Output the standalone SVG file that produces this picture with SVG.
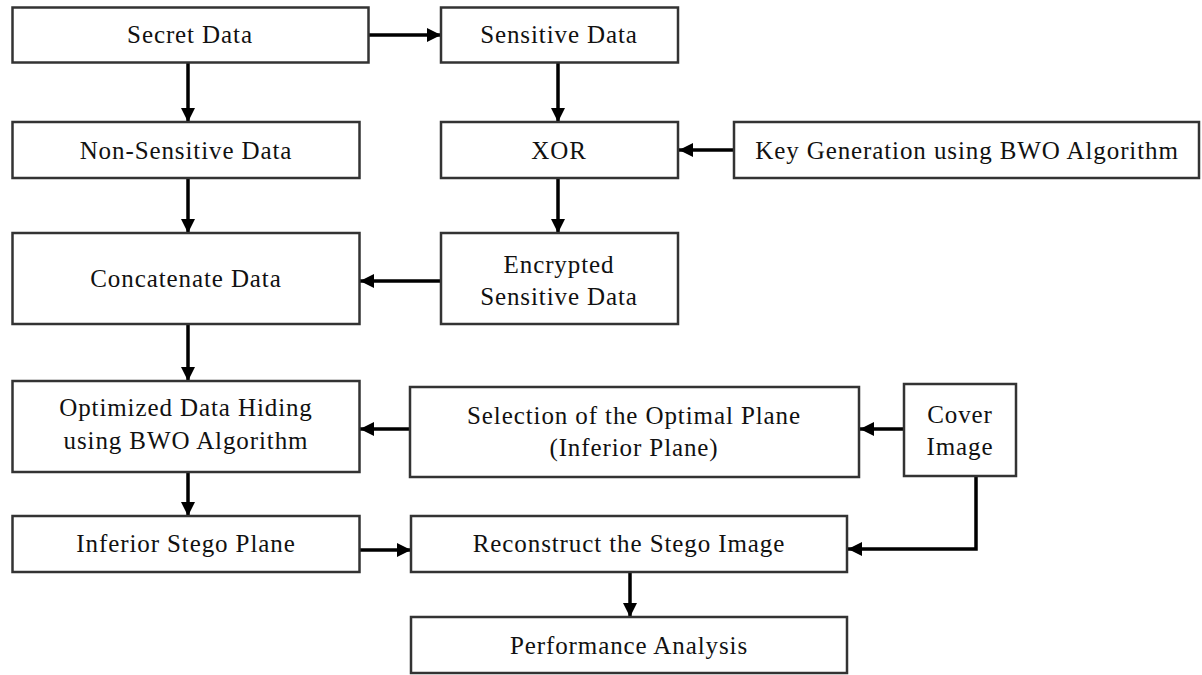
<svg xmlns="http://www.w3.org/2000/svg" width="1202" height="675" viewBox="0 0 1202 675">
<defs>
<marker id="ah" viewBox="0 0 10 10" refX="10" refY="5" markerWidth="4" markerHeight="4" orient="auto" markerUnits="strokeWidth">
<path d="M0,0 L10,5 L0,10 z" fill="#000"/>
</marker>
<style>
.box{fill:#fff;stroke:#333;stroke-width:2.5}
.t{font-family:"Liberation Serif","Times New Roman",serif;font-size:25px;letter-spacing:0.9px;fill:#111;text-anchor:middle}
.c{fill:none;stroke:#000;stroke-width:3.5;marker-end:url(#ah)}
</style>
</defs>
<rect width="1202" height="675" fill="#fff"/>
<g id="connectors">
<path class="c" d="M368,35 H441"/>
<path class="c" d="M188,62 V122"/>
<path class="c" d="M558,62 V122"/>
<path class="c" d="M734,150 H679"/>
<path class="c" d="M558,178 V233"/>
<path class="c" d="M188,178 V233"/>
<path class="c" d="M441,281 H360"/>
<path class="c" d="M188,324 V381"/>
<path class="c" d="M410,429 H360"/>
<path class="c" d="M904,429 H860"/>
<path class="c" d="M188,472 V516"/>
<path class="c" d="M359,550 H411"/>
<path class="c" d="M976,476 V549 H848"/>
<path class="c" d="M630,572 V617"/>
</g>
<g id="secret"><rect class="box" x="12.5" y="7.5" width="356" height="55"/><text class="t" x="190" y="43">Secret Data</text></g>
<g id="sensitive"><rect class="box" x="441" y="7.5" width="237" height="55"/><text class="t" x="559" y="43">Sensitive Data</text></g>
<g id="nonsensitive"><rect class="box" x="12.5" y="122" width="347" height="56"/><text class="t" x="186" y="159">Non-Sensitive Data</text></g>
<g id="xor"><rect class="box" x="441" y="122" width="237" height="56"/><text class="t" x="559" y="159">XOR</text></g>
<g id="keygen"><rect class="box" x="734" y="122" width="465" height="56"/><text class="t" x="967" y="159">Key Generation using BWO Algorithm</text></g>
<g id="concatenate"><rect class="box" x="12.5" y="233" width="347" height="91"/><text class="t" x="186" y="287">Concatenate Data</text></g>
<g id="encrypted"><rect class="box" x="441" y="233" width="237" height="91"/><text class="t" x="559" y="273">Encrypted</text><text class="t" x="559" y="305">Sensitive Data</text></g>
<g id="optimized"><rect class="box" x="12.5" y="381" width="347" height="91"/><text class="t" x="186" y="416">Optimized Data Hiding</text><text class="t" x="186" y="449">using BWO Algorithm</text></g>
<g id="selection"><rect class="box" x="410" y="387" width="449" height="90"/><text class="t" x="634" y="424">Selection of the Optimal Plane</text><text class="t" x="634" y="456">(Inferior Plane)</text></g>
<g id="cover"><rect class="box" x="904" y="384" width="112" height="92"/><text class="t" x="960" y="423">Cover</text><text class="t" x="960" y="455">Image</text></g>
<g id="inferior"><rect class="box" x="12.5" y="516" width="347" height="56"/><text class="t" x="186" y="552">Inferior Stego Plane</text></g>
<g id="reconstruct"><rect class="box" x="411" y="516" width="436" height="56"/><text class="t" x="629" y="552">Reconstruct the Stego Image</text></g>
<g id="performance"><rect class="box" x="411" y="617" width="436" height="56"/><text class="t" x="629" y="654">Performance Analysis</text></g>
</svg>
